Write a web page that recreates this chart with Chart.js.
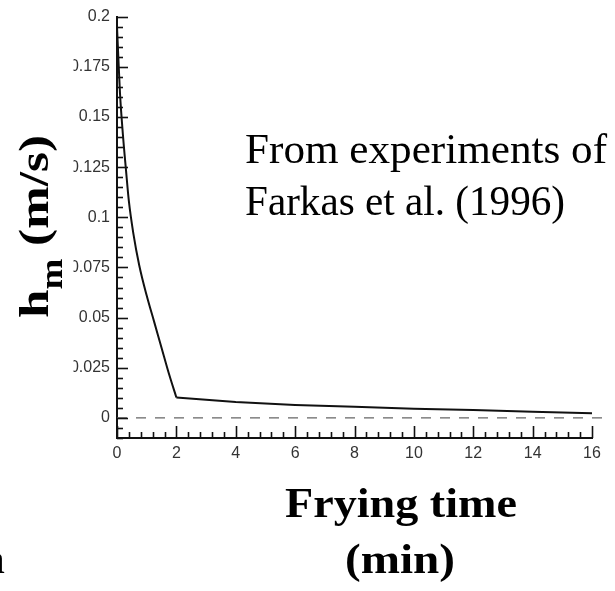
<!DOCTYPE html>
<html>
<head>
<meta charset="utf-8">
<script src="https://cdn.jsdelivr.net/npm/chart.js@4"></script>
<style>
  html, body { margin: 0; padding: 0; background: #fff; }
  #wrap { width: 615px; height: 591px; }
</style>
</head>
<body>
<div id="wrap"><canvas id="myChart"></canvas></div>
<script>
// values
const fryTime = [0, 0.05, 0.1, 0.2, 0.3, 0.4, 0.55, 0.75, 1.0, 1.25, 1.5, 1.75, 2.0, 4, 6, 8, 10, 12, 14, 16];
const hm = [0.195, 0.178, 0.162, 0.141, 0.124, 0.108, 0.092, 0.076, 0.061, 0.048, 0.035, 0.022, 0.0102, 0.0079, 0.0065, 0.0056, 0.0046, 0.0039, 0.0031, 0.0023];
const zeroX = [0, 16.35];
const zeroY = [0, 0];
const yTitle = ["h", "m", " (m/s)"];
const xTitle = ["Frying time", "(min)"];
const note = ["From experiments of", "Farkas et al. (1996)"];

const points = fryTime.map((t, i) => ({ x: t, y: hm[i] }));
const knee = fryTime.indexOf(2.0);

function yTickLabel(v) {
  const k = Math.round(v * 1000);
  return k >= 0 && k % 25 === 0 ? String(k / 1000) : "";
}

function xTickLabel(v) {
  const k = Math.round(v * 10);
  return k % 20 === 0 ? String(Math.round(v)) : "";
}

// squeeze/stretch a line of text to a given width
function fitText(ctx, text, x, y, width, center) {
  const w = ctx.measureText(text).width;
  ctx.save();
  ctx.translate(x, y);
  ctx.scale(width / w, 1);
  ctx.textAlign = "left";
  ctx.fillText(text, center ? -w / 2 : 0, 0);
  ctx.restore();
}

const inwardTicks = {
  id: "inwardTicks",
  afterDraw(chart) {
    const ctx = chart.ctx;
    const xs = chart.scales.x;
    const ys = chart.scales.y;
    const area = chart.chartArea;
    ctx.save();
    ctx.strokeStyle = "#111";
    ctx.lineWidth = 1.6;
    ys.ticks.forEach((t) => {
      const py = Math.round(ys.getPixelForValue(t.value)) + 0.5;
      const len = yTickLabel(t.value) ? 11 : 6;
      ctx.beginPath();
      ctx.moveTo(area.left, py);
      ctx.lineTo(area.left + len, py);
      ctx.stroke();
    });
    xs.ticks.forEach((t) => {
      const px = Math.round(xs.getPixelForValue(t.value)) + 0.5;
      const len = xTickLabel(t.value) ? 12 : 6;
      ctx.beginPath();
      ctx.moveTo(px, area.bottom);
      ctx.lineTo(px, area.bottom - len);
      ctx.stroke();
    });
    ctx.restore();
  },
};

const texts = {
  id: "texts",
  afterDraw(chart) {
    const ctx = chart.ctx;
    ctx.save();
    // the original picture is cropped just left of the tick labels
    ctx.fillStyle = "#fff";
    ctx.fillRect(64, 0, 9.5, 430);

    ctx.fillStyle = "#000";
    ctx.textBaseline = "alphabetic";

    // y axis title, rotated, with subscript
    ctx.save();
    ctx.translate(48, 318);
    ctx.rotate(-Math.PI / 2);
    ctx.font = "bold 43px 'Liberation Serif'";
    const wh = ctx.measureText(yTitle[0]).width;
    const wr = ctx.measureText(yTitle[2]).width;
    ctx.font = "bold 31px 'Liberation Serif'";
    const wm = ctx.measureText(yTitle[1]).width;
    const s = 183 / (wh + wm + wr);
    ctx.scale(s, 1);
    ctx.font = "bold 43px 'Liberation Serif'";
    ctx.fillText(yTitle[0], 0, 0);
    ctx.fillText(yTitle[2], wh + wm, 0);
    ctx.font = "bold 31px 'Liberation Serif'";
    ctx.fillText(yTitle[1], wh, 14);
    ctx.restore();

    // note
    ctx.font = "43px 'Liberation Serif'";
    fitText(ctx, note[0], 245, 163, 362, false);
    fitText(ctx, note[1], 245, 215, 320, false);

    // x axis title
    ctx.font = "bold 43px 'Liberation Serif'";
    fitText(ctx, xTitle[0], 401, 517, 232, true);
    fitText(ctx, xTitle[1], 400, 573, 110, true);

    // cropped letter at the lower left edge
    ctx.font = "40px 'Liberation Serif'";
    ctx.fillText("a", -13, 573);
    ctx.restore();
  },
};

new Chart(document.getElementById("myChart"), {
  type: "scatter",
  data: {
    datasets: [
      {
        // steep early drop, smooth
        data: points.slice(0, knee + 1),
        showLine: true,
        borderColor: "#111",
        borderWidth: 2,
        pointRadius: 0,
        cubicInterpolationMode: "monotone",
      },
      {
        // slow tail after 2 min
        data: points.slice(knee),
        showLine: true,
        borderColor: "#111",
        borderWidth: 2,
        pointRadius: 0,
        tension: 0,
      },
      {
        data: zeroX.map((t, i) => ({ x: t, y: zeroY[i] })),
        showLine: true,
        borderColor: "#666",
        borderWidth: 1.2,
        borderDash: [10, 9],
        pointRadius: 0,
        clip: false,
      },
    ],
  },
  options: {
    responsive: true,
    maintainAspectRatio: false,
    animation: false,
    layout: { padding: { left: 0, right: 23, top: 13, bottom: 0 } },
    plugins: { legend: { display: false }, tooltip: { enabled: false } },
    scales: {
      x: {
        type: "linear",
        min: 0,
        max: 16,
        afterFit: (s) => { s.height = 153; },
        grid: { display: false, drawTicks: false },
        border: { display: true, color: "#111", width: 2 },
        ticks: {
          stepSize: 0.4,
          autoSkip: false,
          maxRotation: 0,
          padding: 6,
          color: "#333",
          font: { family: "'Liberation Sans'", size: 16 },
          callback: xTickLabel,
        },
      },
      y: {
        min: -0.01,
        max: 0.2,
        afterFit: (s) => { s.width = 117; },
        grid: { display: false, drawTicks: false },
        border: { display: true, color: "#111", width: 2 },
        ticks: {
          stepSize: 0.005,
          autoSkip: false,
          padding: 7,
          color: "#333",
          font: { family: "'Liberation Sans'", size: 16 },
          callback: yTickLabel,
        },
      },
    },
  },
  plugins: [inwardTicks, texts],
});
</script>
</body>
</html>
